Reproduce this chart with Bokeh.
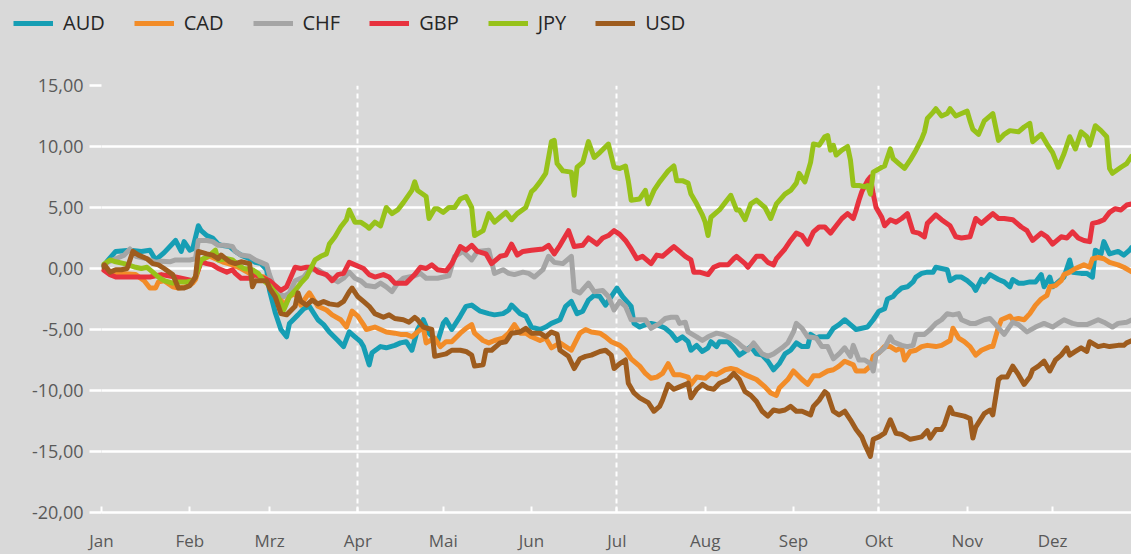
from bokeh.plotting import figure
from bokeh.layouts import column
from bokeh.models import Range1d, FixedTicker, Legend, LegendItem
from bokeh.embed import file_html
from bokeh.resources import INLINE

# ---------------- data ----------------
month_labels = ["Jan", "Feb", "Mrz", "Apr", "Mai", "Jun", "Jul", "Aug", "Sep", "Okt", "Nov", "Dez"]
month_lengths = [31, 28, 31, 30, 31, 30, 31, 31, 30, 31, 30, 31]
y_ticks = [-20, -15, -10, -5, 0, 5, 10, 15]
y_tick_labels = ["-20,00", "-15,00", "-10,00", "-5,00", "0,00", "5,00", "10,00", "15,00"]
currencies = ["AUD", "CAD", "CHF", "GBP", "JPY", "USD"]
colors = ["#169eb4", "#f28c28", "#a5a5a5", "#e7323e", "#97c21a", "#9e5c1e"]

# (day of year, % change)
aud = [(0,0.0),(2,0.6),(5,1.4),(10,1.5),(14,1.4),(17,1.5),(19,0.7),(22,1.3),(26,2.3),(28,1.4),(29,2.2),(31,1.5),(32,1.6),(34,3.5),(35,3.1),(37,2.7),(39,2.5),(41,2.0),(42,1.9),(45,1.8),(47,1.4),(49,1.1),(52,0.8),(54,0.5),(56,0.4),(58,-0.1),(59,-1.8),(61,-3.6),(63,-5.0),(65,-5.6),(66,-4.5),(69,-3.8),(71,-3.3),(73,-3.1),(76,-4.2),(78,-4.6),(80,-5.2),(83,-5.9),(85,-6.4),(87,-5.2),(89,-5.6),(91,-6.0),(92,-6.4),(94,-7.9),(95,-6.9),(98,-6.4),(100,-6.5),(103,-6.3),(105,-6.1),(107,-6.0),(109,-6.7),(111,-5.0),(113,-4.2),(115,-5.3),(118,-6.0),(120,-4.5),(121,-4.2),(123,-5.0),(126,-3.9),(128,-3.1),(130,-3.0),(133,-3.5),(136,-3.7),(138,-3.8),(141,-3.7),(143,-3.4),(144,-3.0),(147,-3.7),(149,-3.9),(151,-4.8),(154,-5.0),(156,-4.8),(158,-4.5),(161,-4.2),(163,-3.1),(165,-2.7),(167,-3.7),(169,-3.5),(171,-2.6),(173,-2.2),(175,-2.3),(177,-3.0),(179,-2.3),(181,-1.6),(183,-2.3),(186,-3.1),(187,-4.5),(189,-4.8),(191,-4.6),(193,-4.5),(195,-4.6),(197,-4.8),(198,-4.9),(200,-5.3),(202,-5.9),(204,-5.6),(206,-6.0),(207,-6.7),(209,-6.3),(211,-6.8),(213,-6.5),(214,-6.0),(216,-6.4),(217,-6.0),(220,-6.0),(222,-6.5),(224,-7.1),(226,-6.8),(228,-6.4),(230,-7.0),(232,-7.1),(234,-7.6),(236,-8.3),(238,-7.8),(240,-7.0),(242,-6.7),(244,-6.1),(246,-6.4),(248,-6.4),(249,-5.4),(251,-5.7),(252,-5.6),(255,-5.6),(257,-4.9),(259,-4.6),(261,-4.2),(263,-4.6),(265,-5.0),(267,-4.9),(269,-4.8),(271,-4.2),(273,-3.5),(275,-3.3),(276,-2.5),(278,-2.3),(279,-2.0),(281,-1.6),(283,-1.5),(285,-1.1),(286,-0.7),(288,-0.4),(290,-0.3),(292,-0.3),(293,0.1),(295,0.0),(297,-0.1),(298,-1.0),(300,-0.7),(302,-0.7),(304,-1.0),(306,-1.4),(307,-1.8),(309,-0.9),(310,-1.1),(312,-0.5),(315,-0.9),(317,-1.1),(319,-1.5),(320,-0.9),(322,-1.2),(324,-1.2),(326,-1.1),(328,-1.1),(330,-0.5),(331,-1.5),(333,-0.7),(334,-1.5),(336,-1.1),(338,-0.7),(340,0.7),(341,-0.3),(344,-0.4),(346,-0.4),(348,-0.7),(349,1.5),(351,1.2),(352,2.2),(354,1.2),(357,1.4),(359,1.1),(361,1.5),(362,1.8)]

cad = [(0,0.0),(3,-0.3),(7,-0.4),(12,-0.5),(15,-1.0),(17,-1.6),(19,-1.6),(20,-1.1),(22,-1.0),(25,-1.5),(27,-1.6),(30,-1.5),(32,-1.2),(33,-0.9),(35,0.7),(38,1.0),(40,0.8),(43,0.5),(46,0.3),(49,0.0),(52,-0.4),(55,-0.6),(57,-0.7),(59,-1.0),(62,-2.0),(64,-3.1),(66,-2.3),(68,-2.0),(70,-3.0),(72,-2.3),(73,-2.0),(76,-3.1),(79,-3.4),(81,-3.8),(84,-4.2),(86,-4.8),(88,-3.5),(90,-3.9),(92,-4.6),(93,-5.0),(96,-4.8),(98,-5.0),(100,-5.2),(103,-5.3),(105,-5.4),(107,-5.4),(109,-5.6),(111,-5.2),(113,-4.8),(114,-6.1),(117,-5.7),(119,-6.4),(121,-6.0),(123,-6.0),(126,-5.3),(128,-4.9),(130,-4.6),(131,-5.3),(134,-5.9),(136,-6.1),(138,-5.9),(141,-5.7),(143,-5.3),(145,-4.6),(147,-5.3),(149,-5.3),(151,-5.6),(154,-5.9),(156,-5.7),(158,-6.5),(161,-6.1),(163,-6.4),(165,-6.7),(168,-5.3),(170,-5.0),(172,-5.2),(175,-5.3),(177,-5.6),(179,-6.0),(182,-6.3),(184,-6.7),(186,-7.4),(189,-8.0),(191,-8.6),(193,-9.0),(195,-8.9),(197,-8.6),(199,-7.8),(201,-8.7),(203,-8.7),(206,-8.9),(207,-9.5),(209,-8.9),(212,-9.0),(214,-8.6),(216,-8.7),(219,-8.3),(221,-8.2),(223,-8.3),(226,-8.7),(228,-8.9),(230,-9.1),(233,-9.7),(235,-10.2),(237,-10.4),(238,-9.8),(241,-9.1),(243,-8.4),(246,-9.1),(248,-9.5),(250,-8.8),(252,-8.8),(255,-8.4),(257,-8.3),(259,-8.0),(261,-7.6),(264,-7.9),(265,-8.4),(268,-8.4),(270,-8.0),(271,-7.2),(273,-6.9),(275,-6.4),(277,-6.4),(279,-6.7),(281,-6.5),(282,-7.5),(284,-6.8),(286,-6.7),(288,-6.4),(290,-6.3),(293,-6.4),(295,-6.3),(298,-5.9),(299,-4.9),(301,-5.7),(303,-6.0),(305,-6.4),(307,-7.1),(309,-6.7),(312,-6.4),(313,-6.4),(315,-4.8),(316,-4.2),(319,-3.9),(320,-4.2),(322,-4.1),(324,-4.2),(326,-3.7),(328,-3.0),(330,-2.5),(332,-2.2),(333,-1.5),(335,-1.4),(337,-1.0),(338,-0.5),(340,-0.3),(342,0.0),(345,0.3),(347,0.1),(348,0.8),(350,0.9),(352,0.8),(354,0.5),(357,0.3),(359,0.1),(362,-0.3)]

chf = [(0,0.0),(2,0.5),(5,0.8),(8,1.1),(10,1.6),(12,1.0),(16,0.8),(19,0.5),(21,0.6),(24,0.55),(26,0.7),(28,0.7),(31,0.7),(33,0.8),(34,2.3),(37,2.3),(39,2.2),(41,1.9),(43,1.9),(46,1.8),(47,1.4),(49,1.1),(52,1.0),(54,0.7),(56,0.5),(58,0.3),(59,-0.5),(61,-1.8),(64,-2.3),(66,-2.0),(68,-1.0),(71,-0.7),(73,-0.1),(76,-0.1),(78,-0.4),(80,-0.7),(83,-1.1),(85,-0.8),(87,-0.3),(89,-0.8),(91,-1.0),(93,-1.4),(96,-1.5),(98,-1.2),(100,-1.5),(102,-1.9),(104,-1.2),(106,-0.8),(108,-0.7),(110,-0.6),(112,-0.4),(114,-0.8),(118,-0.8),(120,-0.7),(122,-0.6),(124,1.0),(127,1.4),(130,0.7),(132,1.4),(136,1.5),(138,-0.4),(141,-0.1),(143,-0.4),(145,-0.5),(148,-0.3),(150,-0.4),(152,-0.7),(155,-0.1),(157,1.0),(159,0.5),(162,0.4),(165,1.0),(166,-1.8),(168,-2.0),(171,-1.2),(173,-1.9),(176,-1.8),(178,-2.3),(180,-3.4),(182,-2.7),(184,-3.1),(186,-4.2),(189,-4.2),(191,-4.2),(193,-4.9),(196,-4.5),(198,-4.1),(200,-4.0),(202,-4.0),(203,-4.5),(205,-4.4),(206,-5.2),(209,-5.6),(211,-5.9),(213,-5.6),(216,-5.3),(218,-5.4),(220,-5.6),(223,-6.0),(225,-6.4),(227,-6.7),(229,-6.1),(231,-6.7),(232,-7.0),(234,-7.2),(236,-7.0),(239,-6.5),(241,-6.1),(243,-5.2),(244,-4.5),(246,-4.9),(248,-5.6),(251,-5.7),(253,-6.4),(255,-6.4),(257,-7.4),(259,-7.0),(261,-6.5),(263,-7.2),(264,-6.3),(266,-7.5),(268,-7.5),(270,-7.8),(271,-8.4),(272,-7.1),(275,-6.5),(277,-5.6),(278,-6.0),(281,-6.3),(283,-6.4),(285,-6.3),(286,-5.4),(289,-5.4),(291,-5.0),(293,-4.5),(295,-4.2),(297,-3.7),(299,-3.8),(301,-3.7),(302,-4.2),(305,-4.5),(307,-4.5),(310,-4.2),(312,-4.1),(314,-4.6),(317,-5.4),(320,-4.4),(322,-4.6),(325,-5.2),(328,-4.8),(331,-4.5),(334,-4.8),(336,-4.5),(338,-4.2),(341,-4.5),(343,-4.6),(346,-4.6),(348,-4.4),(350,-4.2),(352,-4.4),(355,-4.8),(357,-4.5),(360,-4.4),(362,-4.2)]

gbp = [(0,0.0),(3,-0.5),(5,-0.7),(10,-0.7),(13,-0.7),(17,-0.7),(21,-0.5),(26,-0.7),(28,-0.8),(32,-1.0),(33,-0.7),(35,0.55),(37,0.4),(39,0.3),(41,0.0),(44,-0.3),(46,-0.1),(47,-0.4),(49,-0.8),(52,-0.8),(54,-0.5),(56,-0.7),(59,-1.0),(61,-1.4),(63,-1.8),(65,-1.5),(68,0.1),(70,0.0),(72,0.1),(74,0.1),(76,-0.3),(79,-0.5),(81,-1.0),(83,-0.5),(85,-0.4),(87,0.5),(89,0.3),(92,0.0),(94,-0.5),(96,-0.7),(99,-0.5),(101,-0.7),(103,-1.2),(105,-1.2),(107,-1.2),(110,-0.5),(112,0.1),(114,0.0),(116,0.3),(118,-0.1),(121,-0.2),(123,0.4),(126,1.8),(128,1.5),(130,1.9),(132,1.4),(135,1.2),(137,0.4),(140,1.0),(142,1.1),(144,2.0),(146,1.1),(148,1.4),(151,1.5),(155,1.6),(157,1.9),(159,1.2),(161,1.9),(164,3.1),(166,1.8),(169,1.9),(171,2.5),(174,2.0),(176,2.5),(178,2.7),(180,3.1),(182,2.8),(184,2.3),(186,1.6),(188,0.8),(190,1.0),(193,0.4),(195,1.1),(197,1.0),(200,1.6),(201,1.8),(203,1.4),(205,1.0),(207,0.7),(208,-0.3),(210,-0.3),(213,-0.5),(215,0.1),(217,0.3),(220,0.3),(222,0.8),(223,1.0),(226,0.4),(227,0.1),(230,1.0),(232,1.0),(234,0.5),(236,0.3),(237,0.8),(240,1.6),(242,2.3),(244,2.9),(246,2.7),(248,2.0),(250,3.0),(252,3.4),(254,3.4),(256,2.9),(258,3.5),(260,4.1),(262,4.5),(264,4.1),(265,4.8),(266,5.6),(267,6.3),(269,7.2),(270,7.5),(271,6.1),(272,5.0),(274,4.2),(275,3.5),(277,4.0),(279,3.8),(281,4.1),(283,4.5),(285,3.0),(287,2.9),(289,2.6),(290,3.7),(293,4.4),(295,4.0),(298,3.5),(300,2.6),(302,2.5),(305,2.6),(307,4.1),(309,3.7),(311,4.1),(313,4.5),(315,4.1),(317,4.1),(320,4.0),(323,3.4),(325,3.1),(327,2.3),(330,2.9),(332,2.6),(334,2.0),(337,2.6),(339,2.5),(341,3.0),(343,2.5),(345,2.3),(347,2.2),(348,3.7),(350,3.8),(352,4.0),(354,4.6),(356,4.9),(358,4.8),(360,5.2),(362,5.3)]

jpy = [(0,0.2),(3,0.7),(5,0.55),(8,0.4),(12,0.1),(14,0.0),(16,0.1),(18,-0.3),(20,-0.7),(22,-1.0),(25,-1.2),(27,-1.1),(30,-1.1),(32,-1.0),(33,-0.7),(35,0.7),(38,1.1),(40,1.5),(41,0.7),(44,0.8),(46,0.7),(48,0.3),(50,0.0),(53,-0.1),(55,-0.4),(57,-1.0),(59,-1.4),(62,-2.3),(64,-3.4),(66,-2.3),(68,-1.8),(70,-1.2),(72,-0.7),(75,0.7),(77,1.0),(79,1.2),(80,2.0),(82,2.6),(84,3.4),(86,4.0),(87,4.8),(89,3.8),(91,3.8),(93,3.5),(94,3.3),(96,3.8),(98,3.5),(100,5.0),(102,4.5),(104,4.8),(106,5.4),(109,6.4),(110,7.1),(111,6.4),(114,5.9),(115,4.1),(117,4.9),(118,4.9),(120,4.6),(122,5.0),(124,5.0),(126,5.7),(128,5.9),(130,5.0),(131,2.7),(134,3.1),(136,4.5),(138,3.8),(140,4.2),(142,4.6),(144,4.0),(146,4.5),(149,5.0),(151,6.3),(152,6.5),(154,7.1),(156,7.8),(158,10.4),(159,10.5),(160,8.6),(162,8.0),(165,7.9),(166,6.0),(167,8.3),(169,8.7),(171,10.4),(173,9.1),(175,9.5),(178,10.2),(180,8.3),(182,8.2),(184,8.4),(185,7.2),(186,5.6),(189,5.7),(191,6.4),(192,5.3),(194,6.4),(196,7.1),(197,7.4),(199,8.0),(201,8.4),(202,7.2),(204,7.2),(206,7.0),(207,6.1),(209,5.3),(211,4.4),(212,3.8),(213,2.7),(214,4.2),(217,4.8),(219,5.4),(221,6.0),(223,4.8),(224,4.8),(226,4.0),(228,5.3),(230,5.6),(233,5.0),(235,4.1),(237,5.3),(240,6.1),(242,6.4),(244,7.0),(245,7.8),(247,7.1),(249,8.7),(250,10.2),(252,10.1),(254,10.8),(255,10.9),(256,9.7),(257,10.1),(258,9.3),(260,9.7),(262,10.0),(263,8.9),(264,6.8),(266,6.8),(268,6.7),(269,6.8),(270,6.1),(271,7.9),(274,8.3),(275,8.4),(277,9.8),(278,9.0),(280,8.6),(282,8.2),(284,8.9),(286,9.7),(288,10.6),(289,11.2),(290,12.3),(292,12.8),(293,13.1),(295,12.5),(297,12.7),(298,13.1),(300,12.5),(302,12.7),(304,12.9),(305,12.1),(306,11.4),(308,11.0),(310,12.1),(313,12.7),(315,10.5),(317,11.0),(319,11.3),(322,11.2),(324,11.6),(326,11.9),(327,10.4),(330,11.0),(332,10.2),(334,9.5),(336,8.3),(338,9.4),(340,10.8),(342,9.8),(344,11.2),(346,10.8),(347,10.1),(349,11.7),(351,11.3),(353,10.8),(354,8.2),(355,7.8),(358,8.3),(360,8.6),(362,9.3)]

usd = [(0,0.0),(1,0.3),(3,-0.3),(5,-0.1),(7,-0.1),(9,0.0),(11,1.4),(13,1.1),(16,0.8),(18,0.4),(20,0.3),(22,0.0),(25,-0.5),(27,-1.6),(29,-1.6),(31,-1.4),(33,-0.7),(34,1.4),(37,1.2),(39,1.1),(41,0.8),(42,1.1),(45,0.55),(47,0.4),(49,0.55),(52,0.4),(53,-1.5),(54,-1.0),(56,-1.0),(58,-1.0),(59,-1.6),(61,-2.3),(63,-3.7),(65,-3.8),(68,-3.1),(69,-2.0),(70,-2.7),(72,-3.0),(74,-2.6),(76,-2.9),(78,-2.7),(80,-2.9),(83,-3.0),(85,-2.7),(87,-1.9),(88,-1.6),(90,-2.3),(92,-2.7),(94,-3.1),(96,-3.7),(99,-4.0),(101,-3.8),(103,-4.1),(106,-4.2),(108,-4.4),(110,-4.0),(111,-4.2),(113,-4.8),(116,-5.0),(117,-7.2),(119,-7.1),(121,-7.0),(123,-6.7),(126,-6.7),(128,-6.8),(130,-7.1),(131,-8.0),(134,-7.9),(135,-6.7),(137,-6.7),(140,-6.1),(142,-6.0),(144,-5.3),(147,-5.2),(149,-4.9),(151,-5.3),(154,-5.3),(156,-5.6),(158,-5.2),(160,-5.4),(161,-6.7),(164,-7.2),(166,-8.2),(168,-7.4),(170,-7.2),(172,-7.1),(175,-6.8),(177,-6.7),(179,-7.1),(180,-8.2),(182,-7.8),(184,-7.5),(185,-9.4),(187,-10.2),(189,-10.6),(192,-11.0),(194,-11.7),(196,-11.3),(197,-10.8),(199,-9.5),(201,-9.9),(203,-9.7),(206,-9.4),(207,-10.6),(209,-9.9),(211,-9.5),(213,-9.8),(215,-9.9),(217,-9.4),(220,-9.1),(222,-8.6),(224,-9.1),(226,-10.1),(228,-10.4),(230,-10.9),(232,-11.7),(234,-12.1),(236,-11.6),(238,-11.7),(240,-11.6),(242,-11.3),(244,-11.7),(246,-11.7),(249,-12.0),(250,-11.3),(252,-10.8),(254,-10.1),(255,-10.3),(257,-11.7),(259,-12.0),(261,-11.7),(263,-12.4),(265,-13.2),(267,-13.8),(268,-14.4),(270,-15.4),(271,-14.0),(273,-13.8),(275,-13.5),(277,-12.4),(279,-13.5),(281,-13.6),(284,-14.0),(286,-13.9),(288,-13.8),(290,-13.3),(291,-13.9),(293,-13.2),(295,-13.2),(296,-12.8),(298,-11.4),(299,-11.9),(301,-12.0),(303,-12.1),(305,-12.3),(306,-13.9),(307,-13.0),(310,-11.9),(312,-11.6),(313,-12.0),(315,-9.1),(316,-8.9),(318,-8.9),(320,-8.0),(322,-8.7),(324,-9.5),(326,-8.9),(327,-8.3),(329,-8.0),(331,-7.6),(333,-8.4),(335,-7.5),(337,-7.1),(339,-6.5),(340,-7.1),(342,-6.8),(344,-6.5),(346,-6.8),(347,-6.0),(350,-6.4),(352,-6.3),(354,-6.4),(357,-6.3),(359,-6.3),(360,-6.1),(362,-5.9)]

series = [aud, cad, chf, gbp, jpy, usd]

# month start positions (day of year)
month_starts = [sum(month_lengths[:i]) for i in range(12)]
quarter_starts = month_starts[0::3]

BG = "#d9d9d9"
FONT = "Open Sans"
LW = 5
NAN = float("nan")
HOST_STYLE = {"background-color": BG}

# ---------------- legend strip ----------------
lg = figure(width=1131, height=70, output_backend="svg", toolbar_location=None,
            x_range=Range1d(0, 1), y_range=Range1d(0, 1),
            min_border=0, min_border_left=0, min_border_right=0, min_border_top=0, min_border_bottom=0,
            background_fill_color=BG, border_fill_color=BG, outline_line_color=None,
            frame_align=False, styles=HOST_STYLE)
lg.axis.visible = False
lg.grid.visible = False

# ---------------- main chart ----------------
p = figure(width=1131, height=484, output_backend="svg", toolbar_location=None,
           x_range=Range1d(0, 361.7), y_range=Range1d(-20, 15),
           min_border_left=101, min_border_right=0, min_border_top=15, min_border_bottom=41,
           background_fill_color=BG, border_fill_color=BG, outline_line_color=None,
           frame_align=False, styles=HOST_STYLE)

# x axis
p.xaxis.ticker = FixedTicker(ticks=month_starts)
p.xaxis.major_label_overrides = {m: lab for m, lab in zip(month_starts, month_labels)}
p.xaxis.axis_line_color = "white"
p.xaxis.axis_line_width = 2.5
p.xaxis.major_tick_in = 6
p.xaxis.major_tick_out = 0
p.xaxis.major_tick_line_color = "white"
p.xaxis.major_tick_line_width = 2
p.xaxis.minor_tick_line_color = None
p.xaxis.major_label_standoff = 16
p.xaxis.major_label_text_font = FONT
p.xaxis.major_label_text_font_size = "17px"
p.xaxis.major_label_text_color = "#595959"

# y axis
p.yaxis.ticker = FixedTicker(ticks=y_ticks)
p.yaxis.major_label_overrides = {t: lab for t, lab in zip(y_ticks, y_tick_labels)}
p.yaxis.axis_line_color = None
p.yaxis.major_tick_in = 0
p.yaxis.major_tick_out = 12
p.yaxis.major_tick_line_color = "white"
p.yaxis.major_tick_line_width = 2.5
p.yaxis.minor_tick_line_color = None
p.yaxis.major_label_standoff = 6
p.yaxis.major_label_text_font = FONT
p.yaxis.major_label_text_font_size = "18px"
p.yaxis.major_label_text_color = "#595959"

# grids
p.ygrid.ticker = FixedTicker(ticks=y_ticks)
p.ygrid.grid_line_color = "white"
p.ygrid.grid_line_width = 2.5
p.xgrid.ticker = FixedTicker(ticks=quarter_starts)
p.xgrid.grid_line_color = "white"
p.xgrid.grid_line_width = 2
p.xgrid.grid_line_dash = "5 4"

items = []
for name, data, col in zip(currencies, series, colors):
    xs = [d for d, v in data]
    ys = [v for d, v in data]
    p.line(xs, ys, line_color=col, line_width=LW, line_join="round")
    # legend swatch: a renderer with a single undrawn (NaN) point in the legend strip
    r = lg.line([NAN], [NAN], line_color=col, line_width=LW)
    items.append(LegendItem(label=name, renderers=[r]))

legend = Legend(items=items, orientation="horizontal", location=(13, 34),
                glyph_width=40, glyph_height=20, label_standoff=10, spacing=29,
                padding=0, margin=0, border_line_color=None, background_fill_alpha=0,
                label_text_font=FONT, label_text_font_size="20px", label_text_color="#262626")
lg.add_layout(legend)

layout = column(lg, p, spacing=0, styles=HOST_STYLE)
open("out.html", "w").write(file_html(layout, INLINE))
